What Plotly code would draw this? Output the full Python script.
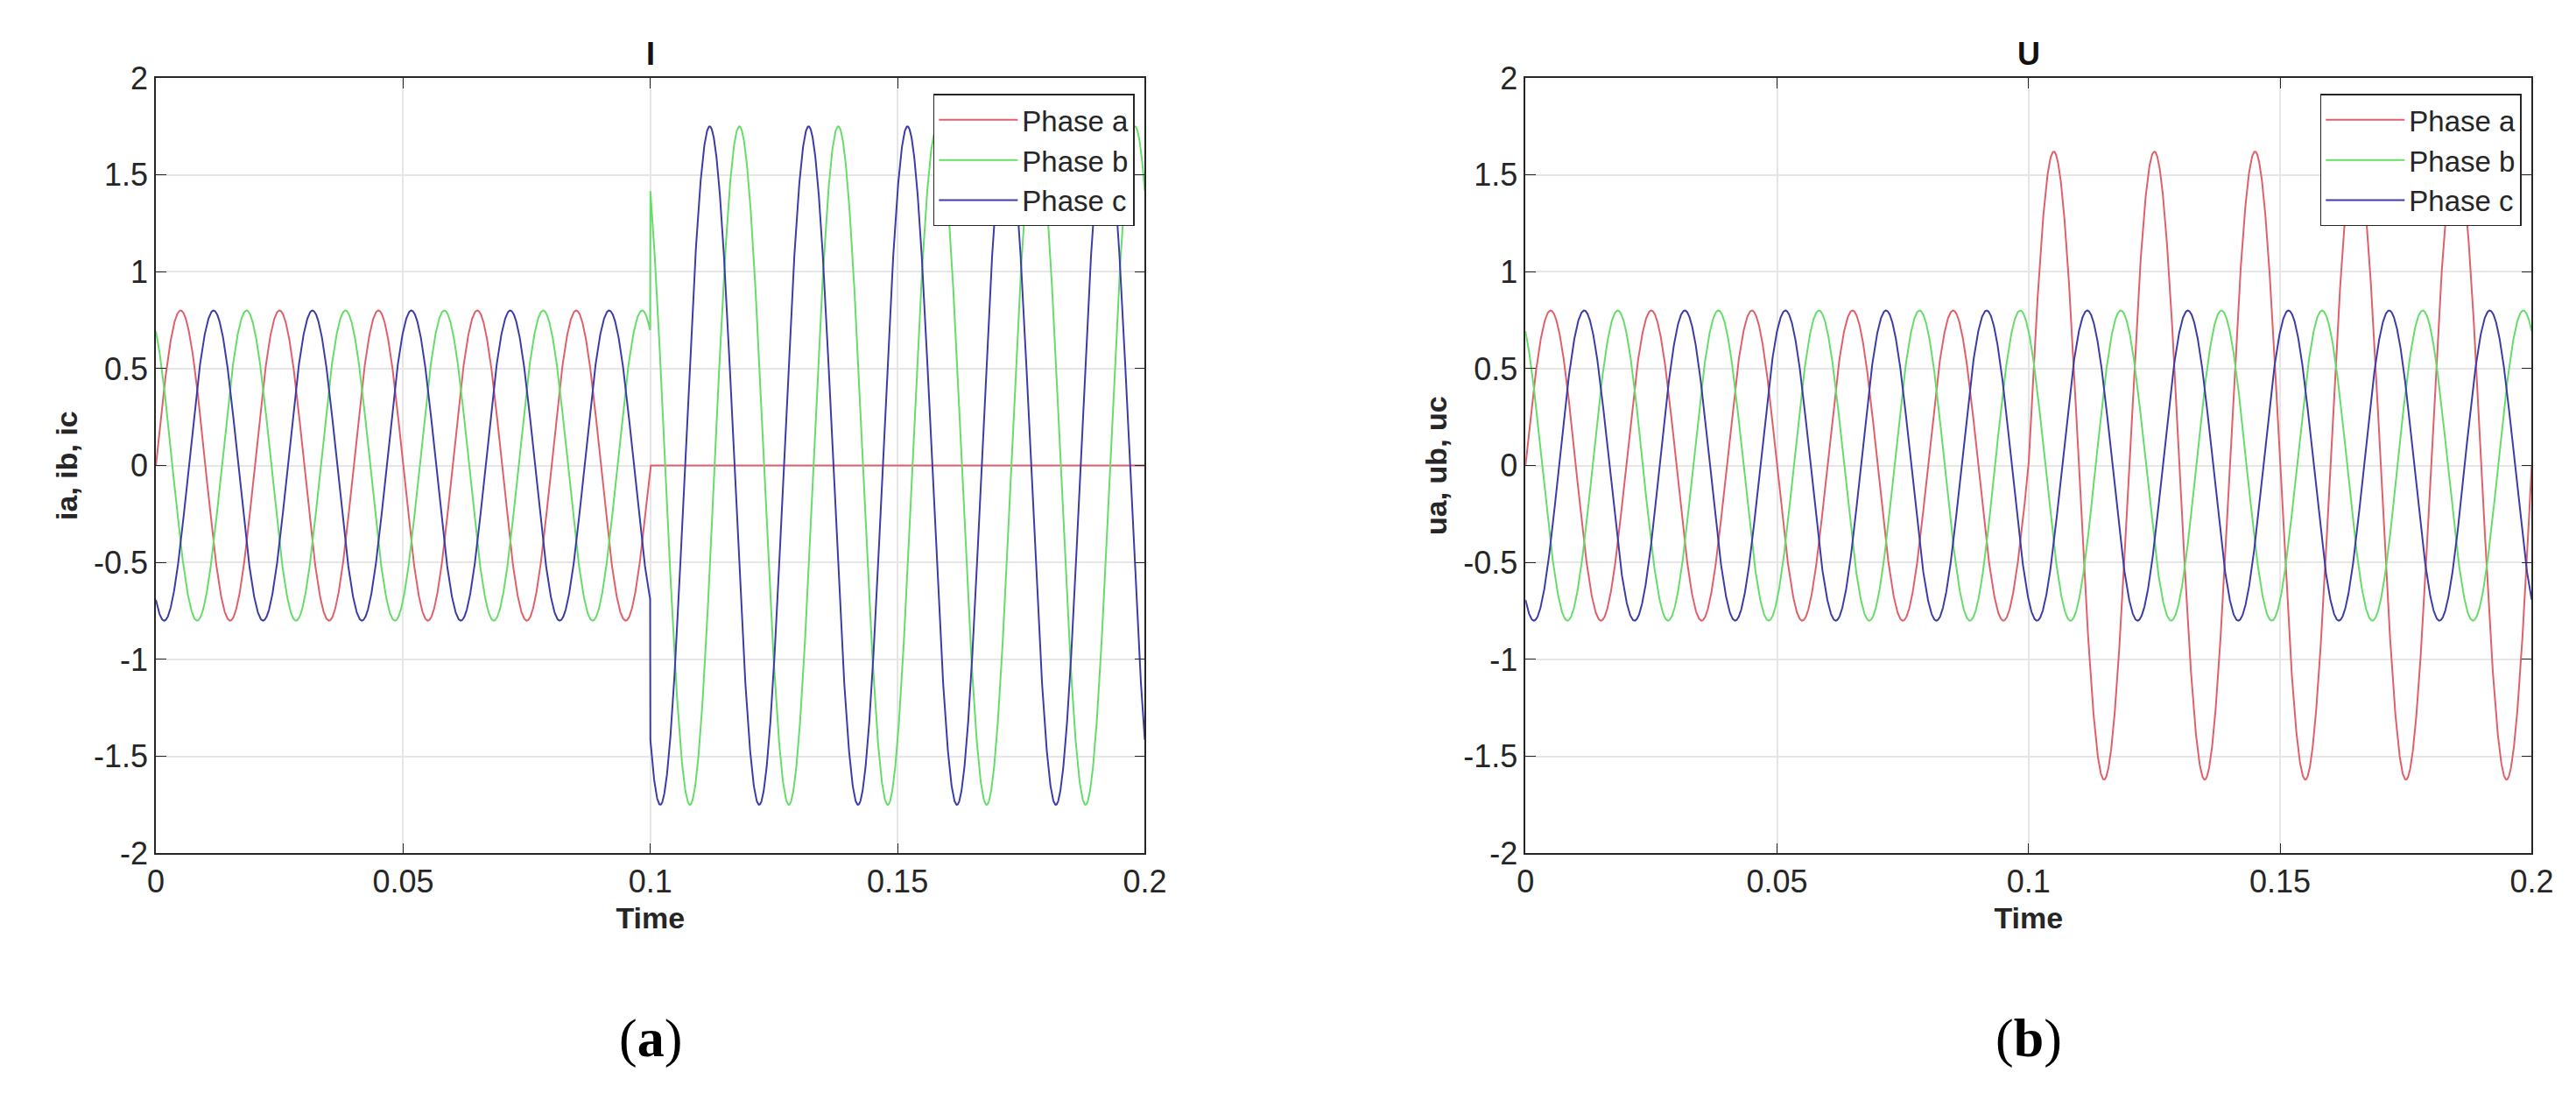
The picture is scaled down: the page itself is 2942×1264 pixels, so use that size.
import numpy as np
import plotly.graph_objects as go

# ---- data ----
freq_hz = 50.0
fault_time = 0.1
t_end = 0.2
pre_amp = [0.8, 0.8, 0.8]              # phases a, b, c before fault
pre_phase_deg = [0, 120, -120]
# current panel after fault: amplitudes and peak times
I_post_amp = [0.0, 1.75, 1.75]
I_post_peak_time = [0.0, 0.118, 0.112]
# voltage panel after fault
U_post_amp = [1.62, 0.8, 0.8]
U_post_phase_deg = [0, 120, -120]
phase_names = ["Phase a", "Phase b", "Phase c"]
colors = ["#e0606a", "#66dd6a", "#3c3ca8"]
xticks = [0, 0.05, 0.1, 0.15, 0.2]
xticklabels = ["0", "0.05", "0.1", "0.15", "0.2"]
yticks = [-2, -1.5, -1, -0.5, 0, 0.5, 1, 1.5, 2]
yticklabels = ["-2", "-1.5", "-1", "-0.5", "0", "0.5", "1", "1.5", "2"]

w = 2 * np.pi * freq_hz
t = np.linspace(0, t_end, 4001)
pre = t < fault_time

def pre_wave(k):
    return pre_amp[k] * np.sin(w * t + np.radians(pre_phase_deg[k]))

fig = go.Figure()
for k in range(3):
    post = I_post_amp[k] * np.cos(w * (t - I_post_peak_time[k]))
    y = np.where(pre, pre_wave(k), post)
    fig.add_trace(go.Scatter(x=t, y=y, mode="lines", name=phase_names[k],
                             line=dict(color=colors[k], width=2),
                             xaxis="x", yaxis="y", legend="legend"))
for k in range(3):
    post = U_post_amp[k] * np.sin(w * t + np.radians(U_post_phase_deg[k]))
    y = np.where(pre, pre_wave(k), post)
    fig.add_trace(go.Scatter(x=t, y=y, mode="lines", name=phase_names[k],
                             line=dict(color=colors[k], width=2),
                             xaxis="x2", yaxis="y2", legend="legend2"))

font = dict(family="Liberation Sans, Arial", size=36, color="#262626")
ax_common = dict(showline=True, linecolor="#262626", linewidth=1.5, mirror="ticks",
                 ticks="inside", ticklen=12, tickcolor="#262626",
                 showgrid=True, gridcolor="#e6e6e6", gridwidth=1.5, zeroline=False,
                 tickfont=font)
xd1 = [162 / 2942, 1305 / 2942]
xd2 = [1745 / 2942, 2908 / 2942]
yd = [1 - 978 / 1264, 1 - 63 / 1264]
xcommon = dict(ax_common, range=[0, t_end], tickvals=xticks, ticktext=xticklabels,
               title=dict(text="<b>Time</b>", font=dict(font, size=34), standoff=10))
ycommon = dict(ax_common, range=[-2, 2], tickvals=yticks, ticktext=yticklabels)

legend_style = dict(bgcolor="white", bordercolor="#262626", borderwidth=1.5,
                    font=dict(font, size=33), xanchor="right", yanchor="top",
                    tracegroupgap=0, itemwidth=90)

fig.update_layout(
    width=2942, height=1264, paper_bgcolor="white", plot_bgcolor="white",
    margin=dict(l=0, r=0, t=0, b=0),
    xaxis=dict(xcommon, domain=xd1, anchor="y"),
    yaxis=dict(ycommon, domain=yd, anchor="x",
               title=dict(text="<b>ia, ib, ic</b>", font=dict(font, size=34), standoff=8)),
    xaxis2=dict(xcommon, domain=xd2, anchor="y2"),
    yaxis2=dict(ycommon, domain=yd, anchor="x2",
                title=dict(text="<b>ua, ub, uc</b>", font=dict(font, size=34), standoff=8)),
    legend=dict(legend_style, x=xd1[1] - 0.004, y=yd[1] - 0.015),
    legend2=dict(legend_style, x=xd2[1] - 0.004, y=yd[1] - 0.015),
    annotations=[
        dict(text="<b>I</b>", x=sum(xd1) / 2, y=yd[1] + 0.004, xref="paper", yref="paper",
             xanchor="center", yanchor="bottom", showarrow=False, font=dict(font, size=36, color="#111")),
        dict(text="<b>U</b>", x=sum(xd2) / 2, y=yd[1] + 0.004, xref="paper", yref="paper",
             xanchor="center", yanchor="bottom", showarrow=False, font=dict(font, size=36, color="#111")),
        dict(text="(<b>a</b>)", x=sum(xd1) / 2, y=1 - 1196 / 1264, xref="paper", yref="paper",
             xanchor="center", yanchor="middle", showarrow=False,
             font=dict(family="Liberation Serif", size=62, color="black")),
        dict(text="(<b>b</b>)", x=sum(xd2) / 2, y=1 - 1196 / 1264, xref="paper", yref="paper",
             xanchor="center", yanchor="middle", showarrow=False,
             font=dict(family="Liberation Serif", size=62, color="black")),
    ],
)
fig.write_html("out.html")
